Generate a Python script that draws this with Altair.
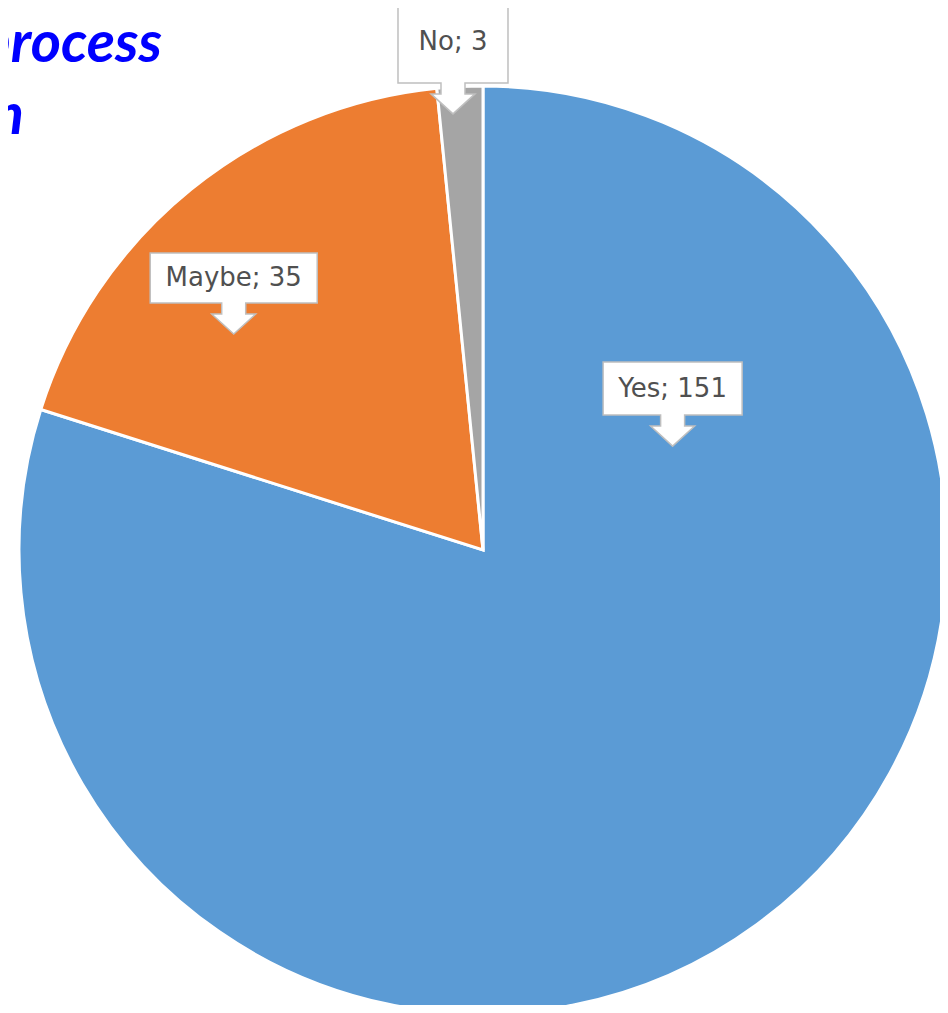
import altair as alt
import pandas as pd

# ---- data ----
categories = ["Yes", "Maybe", "No"]
values = [151, 35, 3]
colors = ["#5B9BD5", "#ED7D31", "#A5A5A5"]
title_lines = ["process", "n"]

# ---- layout (styling / placement, not data) ----
W, H = 932, 997
CX, CY, R = 475, 542, 464
label_angle = [49.6, 317.5, 356.6]   # degrees clockwise from 12 o'clock
label_dist = [249, 369, 506]         # px from the pie centre
box_w = [139, 167, 110]
box_h = [53, 50, 76]
label_dy = [0, 0, -3]


def callout_path(w, h, stem_w=24, stem_h=11, head_w=44, head_h=20):
    hw, hh = w / 2, h / 2
    sw, hd = stem_w / 2, head_w / 2
    pts = [(-hw, -hh), (hw, -hh), (hw, hh), (sw, hh), (sw, hh + stem_h),
           (hd, hh + stem_h), (0, hh + stem_h + head_h), (-hd, hh + stem_h),
           (-sw, hh + stem_h), (-sw, hh), (-hw, hh)]
    return "M" + "L".join(f"{x:.1f},{y:.1f}" for x, y in pts) + "Z"


shapes = [callout_path(w, h) for w, h in zip(box_w, box_h)]

df = pd.DataFrame({
    "category": categories,
    "value": values,
    "idx": list(range(len(categories))),
    "ang": label_angle,
    "dist": label_dist,
    "dy": label_dy,
})
df["label"] = [f"{c}; {v}" for c, v in zip(categories, values)]

base = alt.Chart(df)

pie = base.mark_arc(radius=R, stroke="white", strokeWidth=3).encode(
    theta=alt.Theta("value:Q", stack=True),
    color=alt.Color("category:N", scale=alt.Scale(domain=categories, range=colors), legend=None),
    order=alt.Order("idx:Q"),
    x=alt.value(CX),
    y=alt.value(CY),
)

xs = alt.Scale(domain=[0, W], range=[0, W])
ys = alt.Scale(domain=[0, H], range=[0, H])

pos = base.transform_calculate(
    px=f"{CX} + datum.dist * sin(datum.ang * PI / 180)",
    py=f"{CY} - datum.dist * cos(datum.ang * PI / 180)",
)

boxes = pos.mark_point(filled=True, fill="white", stroke="#BFBFBF", strokeWidth=1.5,
                       opacity=1, fillOpacity=1, size=4).encode(
    x=alt.X("px:Q", scale=xs, axis=None),
    y=alt.Y("py:Q", scale=ys, axis=None),
    shape=alt.Shape("category:N", scale=alt.Scale(domain=categories, range=shapes), legend=None),
)

labels = pos.transform_calculate(ty="datum.py + datum.dy").mark_text(
    font="DejaVu Sans", fontSize=26, color="#505050", baseline="middle", align="center"
).encode(
    x=alt.X("px:Q", scale=xs, axis=None),
    y=alt.Y("ty:Q", scale=ys, axis=None),
    text="label:N",
)

tdf = pd.DataFrame({"t": title_lines, "tx": [154, 16], "ty": [54, 126]})
title = alt.Chart(tdf).mark_text(
    font="Lato", fontSize=58, fontWeight="bold", fontStyle="italic",
    color="#0000FF", align="right", baseline="alphabetic"
).encode(
    x=alt.X("tx:Q", scale=xs, axis=None),
    y=alt.Y("ty:Q", scale=ys, axis=None),
    text="t:N",
)

chart = alt.layer(pie, boxes, labels, title).properties(
    width=W, height=H, padding=0, autosize=alt.AutoSizeParams(type="none"),
    background="white",
).configure_view(stroke=None)

chart.save("out.html", embed_options={"renderer": "svg", "actions": False})
